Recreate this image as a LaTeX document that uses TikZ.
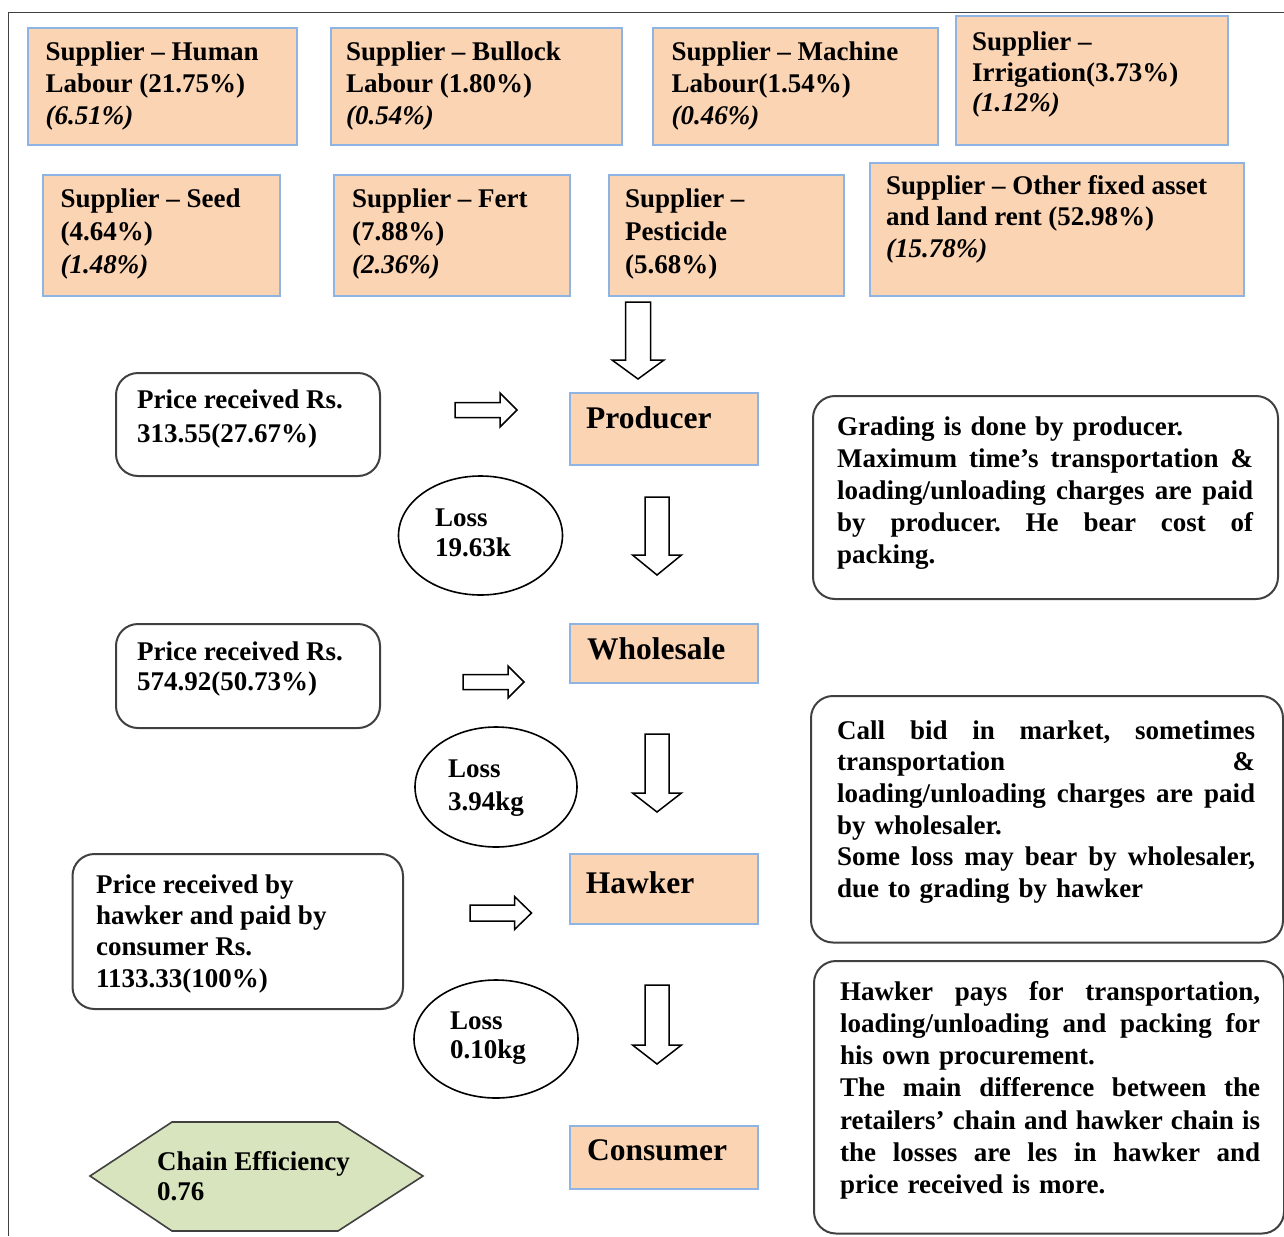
\documentclass[tikz,border=0pt]{standalone}
\usepackage{fontspec}
\setmainfont{Liberation Serif}
\usetikzlibrary{shapes.geometric}
\definecolor{sorange}{HTML}{FBD4B4}
\definecolor{sblue}{HTML}{8EB4E3}
\definecolor{sgreen}{HTML}{D7E4BD}
\definecolor{sgray}{HTML}{404040}
\newcommand\blkdown[6]{%
  \draw[barrow] ({#1-#5},#2) -- ({#1+#5},#2) -- ({#1+#5},#3) -- ({#1+#6},#3) -- (#1,#4) -- ({#1-#6},#3) -- ({#1-#5},#3) -- cycle;}
\newcommand\blkright[6]{%
  \draw[barrow] (#1,{#4-#5}) -- (#2,{#4-#5}) -- (#2,{#4-#6}) -- (#3,#4) -- (#2,{#4+#6}) -- (#2,{#4+#5}) -- (#1,{#4+#5}) -- cycle;}
\newcommand\jl[2]{\makebox[#1][s]{\frenchspacing\spaceskip=0.25em plus 1fil\relax #2}\\}
\begin{document}
\begin{tikzpicture}[x=1pt,y=-1pt,
  sbox/.style={draw=sblue, line width=2pt, fill=sorange, rectangle, anchor=north west, inner sep=0pt},
  rbox/.style={draw=sgray, line width=2pt, rounded corners=22pt, rectangle, anchor=north west, inner sep=0pt},
  lossbox/.style={draw=black, line width=1.6pt, ellipse, inner sep=0pt},
  txt/.style={anchor=north west, inner sep=0pt, align=left, font=\fontsize{27}{32}\selectfont\bfseries},
  big/.style={anchor=base west, inner sep=0pt, font=\fontsize{31.5}{36}\selectfont\bfseries},
  barrow/.style={draw=black, line width=1.5pt, fill=white, line join=miter},
]
\useasboundingbox (0,0) rectangle (1284,1236);
\draw[line width=1pt, black!75] (8,1236) -- (8,13) -- (1284,13);

% supplier boxes
\node[sbox, minimum width=269, minimum height=117] (human) at (27,27) {};
\node[sbox, minimum width=291, minimum height=117] (bullock) at (330,27) {};
\node[sbox, minimum width=284.5, minimum height=117] (machine) at (652,27) {};
\node[sbox, minimum width=272, minimum height=129] (irrig) at (955,15) {};
\node[sbox, minimum width=237.4, minimum height=121] (seed) at (41.6,174) {};
\node[sbox, minimum width=236, minimum height=121] (fert) at (333,174) {};
\node[sbox, minimum width=235, minimum height=121] (pest) at (608,174) {};
\node[sbox, minimum width=373.5, minimum height=133] (other) at (869,162) {};

\node[txt] (human-t) at (45.5,37.6) {\strut Supplier – Human\\Labour (21.75\%)\\\textit{(6.51\%)}};
\node[txt] (bullock-t) at (346,37.6) {\strut Supplier – Bullock\\Labour (1.80\%)\\\textit{(0.54\%)}};
\node[txt] (machine-t) at (671.5,37.6) {\strut Supplier – Machine\\Labour(1.54\%)\\\textit{(0.46\%)}};
\node[txt, font=\fontsize{27}{30.2}\selectfont\bfseries] (irrig-t) at (972,29.6) {\strut Supplier –\\Irrigation(3.73\%)\\\textit{(1.12\%)}};
\node[txt, font=\fontsize{27}{33}\selectfont\bfseries] (seed-t) at (60.5,183.9) {\strut Supplier – Seed\\(4.64\%)\\\textit{(1.48\%)}};
\node[txt, font=\fontsize{27}{33}\selectfont\bfseries] (fert-t) at (352,183.9) {\strut Supplier – Fert\\(7.88\%)\\\textit{(2.36\%)}};
\node[txt, font=\fontsize{27}{33}\selectfont\bfseries] (pest-t) at (625,183.9) {\strut Supplier –\\Pesticide\\(5.68\%)};
\node[txt, font=\fontsize{27}{31.5}\selectfont\bfseries] (other-t) at (886,172) {\strut Supplier – Other fixed asset\\and land rent (52.98\%)\\\textit{(15.78\%)}};

% chain boxes
\node[sbox, minimum width=188, minimum height=72] (producer) at (569,392) {};
\node[sbox, minimum width=188, minimum height=59] (wholesale) at (569,623) {};
\node[sbox, minimum width=188, minimum height=70] (hawker) at (569,853) {};
\node[sbox, minimum width=188, minimum height=63] (consumer) at (569,1125) {};
\node[big] (producer-t) at (586,428) {Producer};
\node[big] (wholesale-t) at (587,659) {Wholesale};
\node[big] (hawker-t) at (585.7,893) {Hawker};
\node[big] (consumer-t) at (587,1160) {Consumer};

% price boxes
\node[rbox, minimum width=264, minimum height=103] (price1) at (115,372) {};
\node[rbox, minimum width=264, minimum height=104] (price2) at (115,623) {};
\node[rbox, minimum width=330.5, minimum height=155] (price3) at (71.5,853) {};
\node[txt, font=\fontsize{27}{34}\selectfont\bfseries] (price1-t) at (137,384.2) {\strut Price received Rs.\\313.55(27.67\%)};
\node[txt, font=\fontsize{27}{30}\selectfont\bfseries] (price2-t) at (137,639) {\strut Price received Rs.\\574.92(50.73\%)};
\node[txt, font=\fontsize{27}{31.3}\selectfont\bfseries] (price3-t) at (96,871.1) {\strut Price received by\\hawker and paid by\\consumer Rs.\\1133.33(100\%)};

% loss ellipses
\node[lossbox, minimum width=164, minimum height=119] (loss1) at (480.5,535.5) {};
\node[lossbox, minimum width=162, minimum height=120] (loss2) at (496,787) {};
\node[lossbox, minimum width=164, minimum height=118] (loss3) at (496,1039) {};
\node[txt, font=\fontsize{27}{30}\selectfont\bfseries] (loss1-t) at (435,505) {\strut Loss\\19.63k};
\node[txt, font=\fontsize{27}{33}\selectfont\bfseries] (loss2-t) at (448,753.9) {\strut Loss\\3.94kg};
\node[txt, font=\fontsize{27}{29}\selectfont\bfseries] (loss3-t) at (450,1008.7) {\strut Loss\\0.10kg};

% right notes
\node[rbox, minimum width=465, minimum height=203] (note1) at (812,395) {};
\node[rbox, minimum width=472, minimum height=246.5] (note2) at (810,695) {};
\node[rbox, minimum width=470, minimum height=272.5] (note3) at (813,960) {};
\node[txt, text width=416pt] (note1-t) at (837,412.6) {\strut Grading is done by producer.\\
\jl{416pt}{Maximum time’s transportation \&}
\jl{416pt}{loading/unloading charges are paid}
\jl{416pt}{by producer. He bear cost of}
packing.};
\node[txt, text width=418pt, font=\fontsize{27}{31.6}\selectfont\bfseries] (note2-t) at (837,717) {\strut\jl{418pt}{Call bid in market, sometimes}
\jl{418pt}{transportation \&}
\jl{418pt}{loading/unloading charges are paid}
by wholesaler.\\
\jl{418pt}{Some loss may bear by wholesaler,}
due to grading by hawker};
\node[txt, text width=420pt, font=\fontsize{27}{32.25}\selectfont\bfseries] (note3-t) at (840,977.4) {\strut\jl{420pt}{Hawker pays for transportation,}
\jl{420pt}{loading/unloading and packing for}
his own procurement.\\
\jl{420pt}{The main difference between the}
\jl{420pt}{retailers’ chain and hawker chain is}
\jl{420pt}{the losses are les in hawker and}
price received is more.};

% chain efficiency
\draw[fill=sgreen, draw=sgray, line width=1.6pt] (90,1176) -- (172,1122) -- (338,1122) -- (423,1176) -- (338,1231) -- (172,1231) -- cycle;
\node[txt, font=\fontsize{27}{30}\selectfont\bfseries] (chain-t) at (157,1149) {\strut Chain Efficiency\\0.76};

% block arrows
\blkdown{638}{302}{360}{379}{12.5}{26}
\blkdown{657}{497}{555}{575}{12}{24.5}
\blkdown{657}{734}{793}{812}{12}{24.5}
\blkdown{657}{985}{1045}{1064}{12}{24.5}
\blkright{455}{500}{517}{410}{7.5}{17}
\blkright{463}{508}{524}{682}{7.5}{16}
\blkright{470}{514.5}{531.5}{913}{8}{16.5}
\end{tikzpicture}
\end{document}
